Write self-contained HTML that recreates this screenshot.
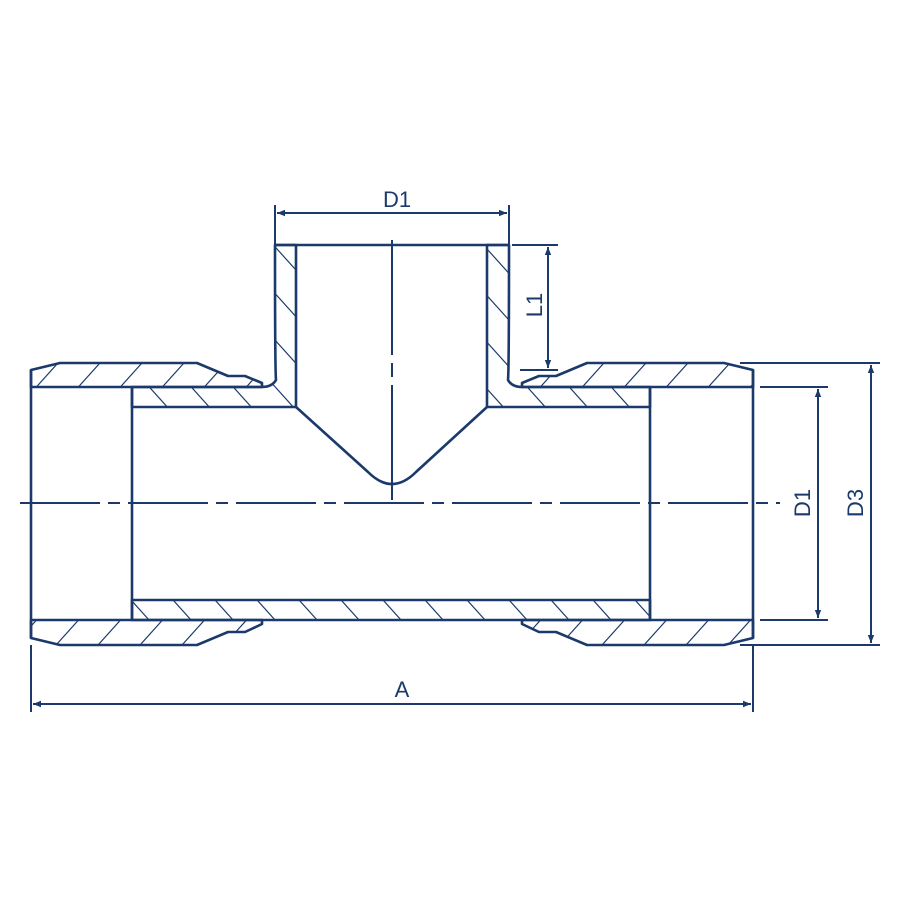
<!DOCTYPE html>
<html><head><style>html,body{margin:0;padding:0;background:#fff}svg{display:block}</style></head>
<body>
<svg width="900" height="900" viewBox="0 0 900 900" xmlns="http://www.w3.org/2000/svg">
<defs>
<pattern id="hf" patternUnits="userSpaceOnUse" width="42" height="42" patternTransform="translate(6,0) skewX(-42)">
<line x1="0" y1="-5" x2="0" y2="50" stroke="#1b3a6b" stroke-width="3.2"/>
</pattern>
<pattern id="hb" patternUnits="userSpaceOnUse" width="42" height="42" patternTransform="translate(10,0) skewX(42)">
<line x1="0" y1="-5" x2="0" y2="50" stroke="#1b3a6b" stroke-width="3.2"/>
</pattern>
<marker id="ar" viewBox="0 0 10 10" refX="10" refY="5" markerWidth="13" markerHeight="8" orient="auto-start-reverse" markerUnits="userSpaceOnUse">
<path d="M0,1 L10,5 L0,9 z" fill="#1b3a6b"/>
</marker>
</defs>
<g fill="none" stroke="#1b3a6b" stroke-width="2.6" stroke-linejoin="round">
<path fill="url(#hf)" d="M31,370 L60,363 L197,363 L228,376 L245,376 L262,383 L262,387 L31,387 Z"/>
<path fill="url(#hf)" d="M753,370 L724,363 L587,363 L556,376 L539,376 L522,383 L522,387 L753,387 Z"/>
<path fill="url(#hf)" d="M31,638 L60,645 L197,645 L228,632 L245,632 L262,624 L262,620 L31,620 Z"/>
<path fill="url(#hf)" d="M753,638 L724,645 L587,645 L556,632 L539,632 L522,624 L522,620 L753,620 Z"/>
<path fill="url(#hb)" d="M132,387 L262,387 Q272,387 276,380 Q275,370 275,245 L296,245 L296,407 L132,407 Z"/>
<path fill="url(#hb)" d="M650,387 L522,387 Q512,387 508,380 Q509,370 509,245 L487,245 L487,407 L650,407 Z"/>
<path fill="url(#hb)" d="M132,600 L650,600 L650,620 L132,620 Z"/>
<line x1="31" y1="370" x2="31" y2="638"/>
<line x1="753" y1="370" x2="753" y2="638"/>
<line x1="132" y1="387" x2="132" y2="620"/>
<line x1="650" y1="387" x2="650" y2="620"/>
<line x1="275" y1="245" x2="509" y2="245"/>
<path d="M296,407 L368,472 Q392,496 416,472 L487,407"/>
</g>
<g stroke="#1b3a6b" stroke-width="2" fill="none">
<path d="M20,503 H780" stroke-dasharray="80,8,12,8"/>
<path d="M392,240 V505" stroke-dasharray="115,8,14,8"/>
<line x1="275" y1="205" x2="275" y2="245"/>
<line x1="509" y1="205" x2="509" y2="245"/>
<line x1="277" y1="213" x2="507" y2="213" marker-start="url(#ar)" marker-end="url(#ar)"/>
<line x1="512" y1="245" x2="558" y2="245"/>
<line x1="520" y1="370" x2="558" y2="370"/>
<line x1="548" y1="247" x2="548" y2="368" marker-start="url(#ar)" marker-end="url(#ar)"/>
<line x1="760" y1="387" x2="828" y2="387"/>
<line x1="760" y1="620" x2="828" y2="620"/>
<line x1="818" y1="389" x2="818" y2="618" marker-start="url(#ar)" marker-end="url(#ar)"/>
<line x1="740" y1="363" x2="880" y2="363"/>
<line x1="740" y1="645" x2="880" y2="645"/>
<line x1="871" y1="365" x2="871" y2="643" marker-start="url(#ar)" marker-end="url(#ar)"/>
<line x1="31" y1="645" x2="31" y2="712"/>
<line x1="753" y1="645" x2="753" y2="712"/>
<line x1="33" y1="704" x2="751" y2="704" marker-start="url(#ar)" marker-end="url(#ar)"/>
</g>
<g fill="#1b3a6b" font-family="Liberation Sans, sans-serif" font-size="22">
<text x="397" y="207" text-anchor="middle">D1</text>
<text x="402" y="697" text-anchor="middle">A</text>
<text transform="translate(542,305) rotate(-90)" text-anchor="middle">L1</text>
<text transform="translate(810,503) rotate(-90)" text-anchor="middle">D1</text>
<text transform="translate(863,503) rotate(-90)" text-anchor="middle">D3</text>
</g>
</svg>
</body></html>
